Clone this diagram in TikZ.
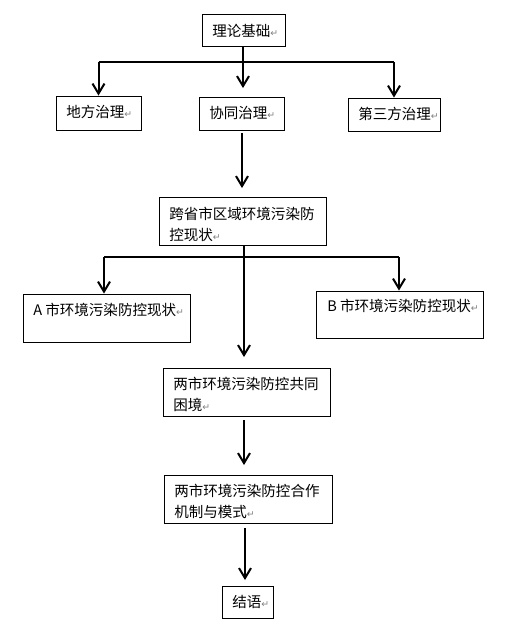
\documentclass[tikz,border=0pt]{standalone}
\usepackage{fontspec}
\setmainfont{Noto Sans CJK SC}
\newfontfamily\symf{DejaVu Sans}
\usetikzlibrary{arrows.meta,fit}
\newcommand\parmark{{\symf\fontsize{7pt}{7pt}\selectfont\textcolor{gray}{↵}}}
\tikzset{
 box/.style={draw, line width=0.75pt, inner sep=0pt},
 arr/.style={line width=1.5pt, -{Straight Barb[length=7.5pt,width=9pt,line width=1.5pt]}},
 txt/.style={anchor=west, inner sep=0pt, font=\fontsize{10.9pt}{15.8pt}\selectfont, align=left},
}
\begin{document}
\begin{tikzpicture}[x=0.75pt,y=-0.75pt]
\useasboundingbox (0,0) rectangle (509,637);
% boxes
\node[box, fit={(202,14)(285,46)}] (theory) {};
\node[box, fit={(56,96)(141,130)}] (local) {};
\node[box, fit={(199,97)(284,130)}] (coop) {};
\node[box, fit={(348,98)(440,131)}] (third) {};
\node[box, fit={(159,197)(326,245)}] (cross) {};
\node[box, fit={(23,294)(190,342)}] (cityA) {};
\node[box, fit={(316,291)(483,338)}] (cityB) {};
\node[box, fit={(163,368)(330,416)}] (dil) {};
\node[box, fit={(164,475)(332,523)}] (mech) {};
\node[box, fit={(222,586)(273,618)}] (concl) {};
% texts
\node[txt] (ttheory) at (212,31) {理论基础\parmark};
\node[txt] (tlocal) at (66,112) {地方治理\parmark};
\node[txt] (tcoop) at (209,113) {协同治理\parmark};
\node[txt] (tthird) at (358,114) {第三方治理\parmark};
\node[txt] (tcross) at (169,224) {跨省市区域环境污染防\\控现状\parmark};
\node[txt] (tA) at (33,310) {A 市环境污染防控现状\parmark};
\node[txt] (tB) at (327,306) {B 市环境污染防控现状\parmark};
\node[txt] (tdil) at (173,394) {两市环境污染防控共同\\困境\parmark};
\node[txt] (tmech) at (174,501) {两市环境污染防控合作\\机制与模式\parmark};
\node[txt] (tconcl) at (232,602) {结语\parmark};
% connectors
\coordinate (h1) at (243,62);
\coordinate (m1) at (243,88);
\draw[line width=1.5pt] (theory.south -| h1) -- (h1);
\draw[line width=1.5pt] (h1 -| local.north) -- (h1 -| third.north);
\draw[arr] (h1 -| local.north) -- (local.north);
\draw[arr] (h1 -| third.north) -- (third.north);
\draw[arr] (h1) -- (m1);
\coordinate (c1) at (242,133);
\coordinate (c2) at (242,188);
\draw[arr] (c1) -- (c2);
\coordinate (h2) at (244,257);
\coordinate (m2) at (244,357);
\draw[line width=1.5pt] (cross.south -| h2) -- (h2);
\draw[line width=1.5pt] (104,257) coordinate (hA) -- (399,257) coordinate (hB);
\draw[arr] (hA) -- (hA |- cityA.north);
\draw[arr] (hB) -- (hB |- cityB.north);
\draw[arr] (h2) -- (m2);
\coordinate (d1) at (244,420);
\coordinate (d2) at (244,465);
\draw[arr] (d1) -- (d2);
\coordinate (e1) at (245,528);
\coordinate (e2) at (245,580);
\draw[arr] (e1) -- (e2);
\end{tikzpicture}
\end{document}
